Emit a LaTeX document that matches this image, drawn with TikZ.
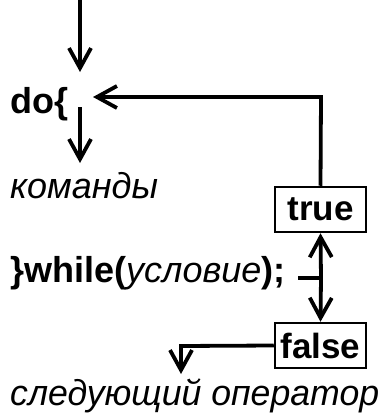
\documentclass[tikz,border=0pt]{standalone}
\usepackage{fontspec}
\setmainfont{Liberation Sans}
\usetikzlibrary{arrows.meta}
\begin{document}
\begin{tikzpicture}[x=1pt,y=-1pt,
  conn/.style={line width=3.8pt},
  arr/.style={conn,-{Straight Barb[length=20pt,width=22pt,line width=3.8pt]}},
  txt/.style={inner sep=0pt,anchor=base west,font=\fontsize{36}{40}\selectfont},
  box/.style={draw,line width=2.5pt,minimum width=91pt,minimum height=45pt,inner sep=1pt,font=\fontsize{35}{40}\selectfont\bfseries}]
\useasboundingbox (0,0) rectangle (383,420);
\node[txt] (do) at (10,113) {\textbf{do\{}};
\node[txt] (cmd) at (10,198) {\textit{команды}};
\node[txt] (wh) at (10,282) {\textbf{\}while(}\textit{условие}\textbf{);}};
\node[txt,xscale=0.99] (next) at (10,405) {\textit{следующий оператор}};
\node[box] (t) at (320.5,209.5) {true};
\node[box] (f) at (320.5,345.5) {false};
\coordinate (top) at (80,0);
\coordinate (doin) at (80,72);
\coordinate (doback) at (93,97);
\coordinate (corner) at (321,97);
\coordinate (doout) at (80,107);
\coordinate (cmdin) at (80,163);
\coordinate (tick) at (298,278);
\coordinate (tickend) at (321,278);
\coordinate (fcorner) at (181,346);
\coordinate (nextin) at (181,374);
\draw[arr] (top) -- (doin);
\draw[arr] (t.north) -- (corner) -- (doback);
\draw[arr] (doout) -- (cmdin);
\draw[conn] (tick) -- (tickend);
\draw[arr] (tickend) -- (t.south);
\draw[arr] (tickend) -- (f.north);
\draw[arr] (f.west) -- (fcorner) -- (nextin);
\end{tikzpicture}
\end{document}
